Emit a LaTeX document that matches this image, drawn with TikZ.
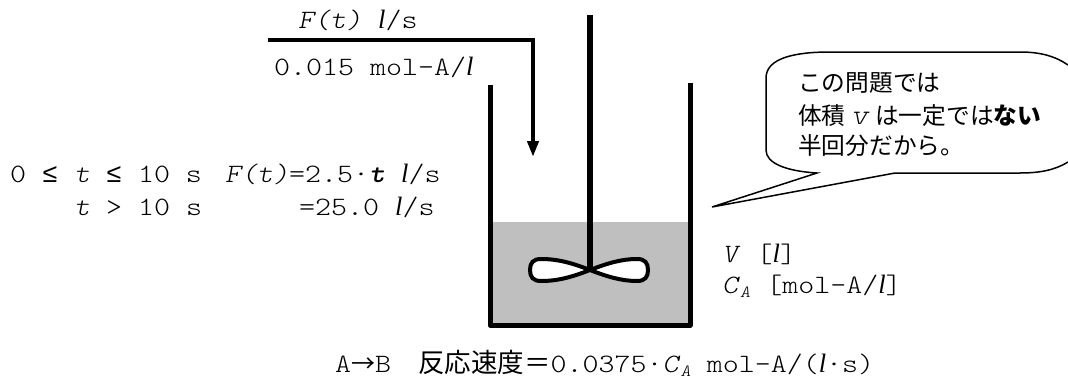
\documentclass[tikz,border=0pt]{standalone}
\usepackage{fontspec}
\usetikzlibrary{arrows.meta}
\setmainfont[FakeStretch=1.15]{Latin Modern Mono Light}
\newfontfamily\jpfont{Noto Sans CJK JP}
\newfontfamily\lfont{Liberation Serif}
\newfontfamily\symfont{Liberation Mono}
\newcommand{\litre}{{\lfont\itshape l}}
\newcommand{\va}[1]{\textit{#1}}
\newcommand{\CA}{\va{C}\raisebox{-4pt}{\fontsize{17}{17}\selectfont\va{A}}}
\tikzset{
  lbl/.style={anchor=base west,inner sep=0pt,font=\fontsize{26.5}{30}\selectfont},
  jplbl/.style={anchor=base west,inner sep=0pt,font=\fontsize{23.7}{30}\selectfont\jpfont},
  wall/.style={black,line width=5pt,line join=round},
  pipe/.style={black,line width=4.5pt}
}
\begin{document}
\begin{tikzpicture}[x=1pt,y=-1pt]
\useasboundingbox (0,0) rectangle (1068,378);
\fill[white] (0,0) rectangle (1068,378);
\fill[black!25] (491,222) rectangle (690,325);
\draw[wall] (490,85) -- (490,325) -- (690,325) -- (690,83);
\draw[wall,line width=6pt] (590,15) -- (590,270);
\draw[black,line width=4pt,fill=white] (590,270) .. controls (572,263) and (558,259) .. (541,259) .. controls (533,259) and (530,263) .. (530,270) .. controls (530,277) and (533,281) .. (541,281) .. controls (558,281) and (572,277) .. (590,270) .. controls (608,263) and (622,259) .. (637,259) .. controls (645,259) and (648,263) .. (648,270) .. controls (648,277) and (645,281) .. (637,281) .. controls (622,281) and (608,277) .. (590,270);
\coordinate (feedstart) at (268,40);
\coordinate (feedcorner) at (533,40);
\coordinate (feedend) at (533,157);
\draw[pipe] (feedstart) -- (feedcorner);
\draw[pipe,-{Stealth[length=16pt,width=11pt,inset=0pt]}] (533,38) -- (feedend);
\coordinate (balloontip) at (712,207);
\draw[black,line width=1.5pt,line join=miter] (1068,65) .. controls (1055,56) and (1040,52) .. (1020,52) -- (830,52) .. controls (795,52) and (766,58) .. (766,78) -- (766,150) .. controls (766,163) and (785,171) .. (817,173) -- (balloontip) -- (895,173) -- (1020,173) .. controls (1040,173) and (1055,170) .. (1068,162);
\node[lbl] (feedrate) at (298,28) {\va{F(t)} \litre/s};
\node[lbl] (feedconc) at (274,75) {0.015 mol-A/\litre};
\node[lbl] (rateone) at (10,182) {0 {\symfont ≤} \va{t} {\symfont ≤} 10 s};
\node[lbl] (rateeq) at (225,182) {\va{F(t)}=2.5·\textbf{\textit{t}} \litre/s};
\node[lbl] (timetwo) at (74,215) {\va{t} > 10 s};
\node[lbl] (ratetwo) at (299,215) {=25.0 \litre/s};
\node[lbl] (volume) at (722,262) {\va{V} [\litre]};
\node[lbl] (conc) at (722,293) {\CA{} [mol-A/\litre]};
\node[lbl] (reaction) at (335,372) {A{\jpfont\fontsize{24}{30}\selectfont →}B\hspace{27pt}{\jpfont 反応速度＝}0.0375·\CA{} mol-A/(\litre·s)};
\node[jplbl] (noteone) at (798,91) {この問題では};
\node[jplbl] (notetwo) at (798,124) {体積 {\fontsize{29}{30}\selectfont\rmfamily\va{v}} は一定では\textbf{ない}};
\node[jplbl] (notethree) at (798,154) {半回分だから。};
\end{tikzpicture}
\end{document}
